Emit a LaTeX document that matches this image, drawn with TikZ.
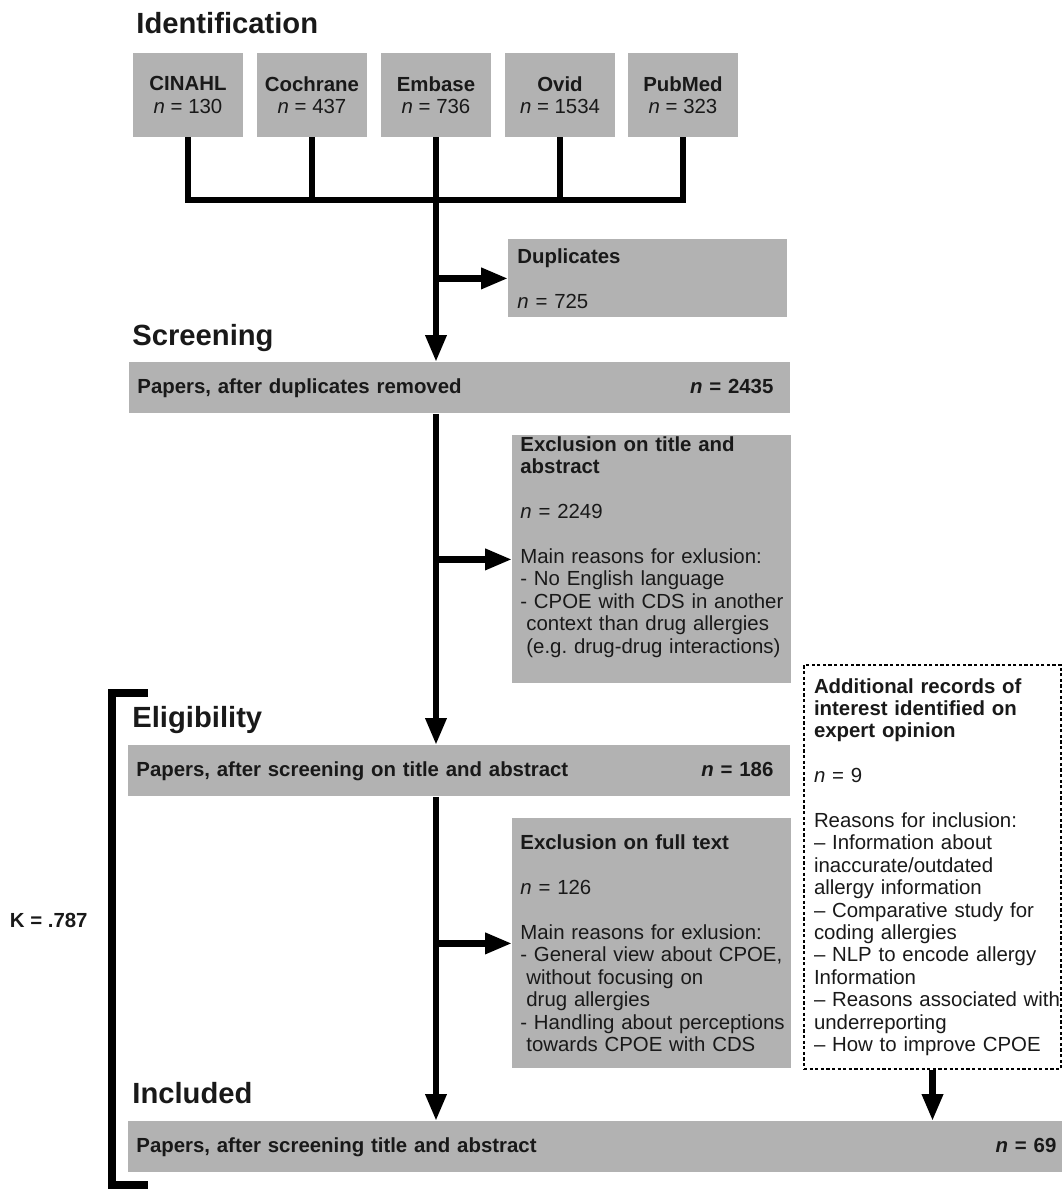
\documentclass[tikz,border=0pt]{standalone}
\usepackage{fontspec}
\setmainfont{Liberation Sans}
\usetikzlibrary{arrows.meta}
\frenchspacing

\newcommand\boxfont{\fontsize{10.2}{11.2}\selectfont}
\newcommand\stagefont{\fontsize{14.6}{18}\selectfont\bfseries}

\tikzset{
  every node/.style={inner sep=0pt,text=black!90},
  stage/.style={anchor=base west,font=\stagefont},
  src/.style={fill=black!30,minimum width=55pt,minimum height=42pt,align=center,font=\boxfont},
  greybox/.style={fill=black!30,anchor=north west,inner xsep=4pt,align=left,font=\boxfont},
  extrabox/.style={draw,line width=1pt,dash pattern=on 1.6pt off 1.2pt,anchor=north west,
    inner xsep=5pt,align=left,font=\boxfont},
  flow/.style={line width=3.25pt},
  arr/.style={flow,-{Triangle[length=13.5pt,width=10pt]}},
  bracket/.style={line width=4pt}
}

\begin{document}
\begin{tikzpicture}[x=0.5pt,y=-0.5pt]
  \useasboundingbox (0,0) rectangle (1062,1191);

  % stage headings
  \node[stage] (identhd) at (136,33) {Identification};
  \node[stage] (screenhd) at (132,345) {Screening};
  \node[stage] (elighd) at (132,727) {Eligibility};
  \node[stage] (inclhd) at (132,1103) {Included};

  % databases
  \node[src] (cinahl) at (188,95) {\textbf{CINAHL}\\\textit{n} = 130};
  \node[src] (cochrane) at (312,95) {\textbf{Cochrane}\\\textit{n} = 437};
  \node[src] (embase) at (436,95) {\textbf{Embase}\\\textit{n} = 736};
  \node[src] (ovid) at (560,95) {\textbf{Ovid}\\\textit{n} = 1534};
  \node[src] (pubmed) at (683,95) {\textbf{PubMed}\\\textit{n} = 323};
  \coordinate (join) at (436,200);

  % flow boxes
  \node[greybox,minimum width=139.5pt,minimum height=39pt,text width=130.5pt,inner xsep=4.5pt]
    (dup) at (508,239) {\textbf{Duplicates}\\[11.2pt]\textit{n} = 725};
  \node[greybox,minimum width=330.5pt,minimum height=25.5pt,text width=322.5pt]
    (screen) at (129,362) {\textbf{Papers, after duplicates removed}\hfill\textbf{\textit{n} = 2435}\kern4.5pt};
  \node[greybox,minimum width=139.5pt,minimum height=124pt,text width=131.5pt]
    (excl1) at (512,435) {\textbf{Exclusion on title and}\\\textbf{abstract}\\[11.2pt]
      \textit{n} = 2249\\[11.2pt]
      Main reasons for exlusion:\\
      - No English language\\
      \mbox{- CPOE with CDS in another}\\
      \hspace*{3pt}context than drug allergies\\
      \hspace*{3pt}\mbox{(e.g. drug-drug interactions)}\\\strut};
  \node[greybox,minimum width=331pt,minimum height=25.5pt,text width=323pt]
    (elig) at (128,745) {\textbf{Papers, after screening on title and abstract}\hfill\textbf{\textit{n} = 186}\kern4.5pt};
  \node[greybox,minimum width=139.5pt,minimum height=125pt,text width=131.5pt]
    (excl2) at (512,818) {\textbf{Exclusion on full text}\\[11.2pt]
      \textit{n} = 126\\[11.2pt]
      Main reasons for exlusion:\\
      - General view about CPOE,\\
      \hspace*{3pt}without focusing on\\
      \hspace*{3pt}drug allergies\\
      \mbox{- Handling about perceptions}\\
      \hspace*{3pt}towards CPOE with CDS};
  \node[extrabox,minimum width=128.5pt,minimum height=202pt,text width=118.5pt]
    (extra) at (803,664) {\textbf{Additional records of}\\\textbf{interest identified on}\\\textbf{expert opinion}\\[11.2pt]
      \textit{n} = 9\\[11.2pt]
      Reasons for inclusion:\\
      -- Information about\\
      inaccurate/outdated\\
      allergy information\\
      -- Comparative study for\\
      coding allergies\\
      -- NLP to encode allergy\\
      Information\\
      \mbox{-- Reasons associated with}\\
      underreporting\\
      -- How to improve CPOE};
  \node[greybox,minimum width=468pt,minimum height=25.5pt,text width=460pt]
    (incl) at (128,1121) {\textbf{Papers, after screening title and abstract}\hfill\textbf{\textit{n} = 69}};

  % connectors
  \draw[flow] (cinahl.south) |- (join) -| (pubmed.south);
  \foreach \db in {cochrane,ovid}
    \draw[flow] (\db.south) -- (\db.south |- join);
  \draw[flow] (embase.south) -- (join);
  \draw[arr] (join) -- (screen.north -| join);
  \draw[arr] (join |- dup.west) -- (dup.west);
  \draw[arr] (screen.south -| join) -- (elig.north -| join);
  \draw[arr] (join |- excl1.west) -- (excl1.west);
  \draw[arr] (elig.south -| join) -- (incl.north -| join);
  \draw[arr] (join |- excl2.west) -- (excl2.west);
  \draw[arr] (extra.south) -- (incl.north -| extra.south);

  % agreement bracket
  \draw[bracket] (148,693) -| (112,1185) -- (148,1185);
  \node[anchor=east,font=\boxfont\bfseries] (kappa) at (88,920) {K = .787};
\end{tikzpicture}
\end{document}
